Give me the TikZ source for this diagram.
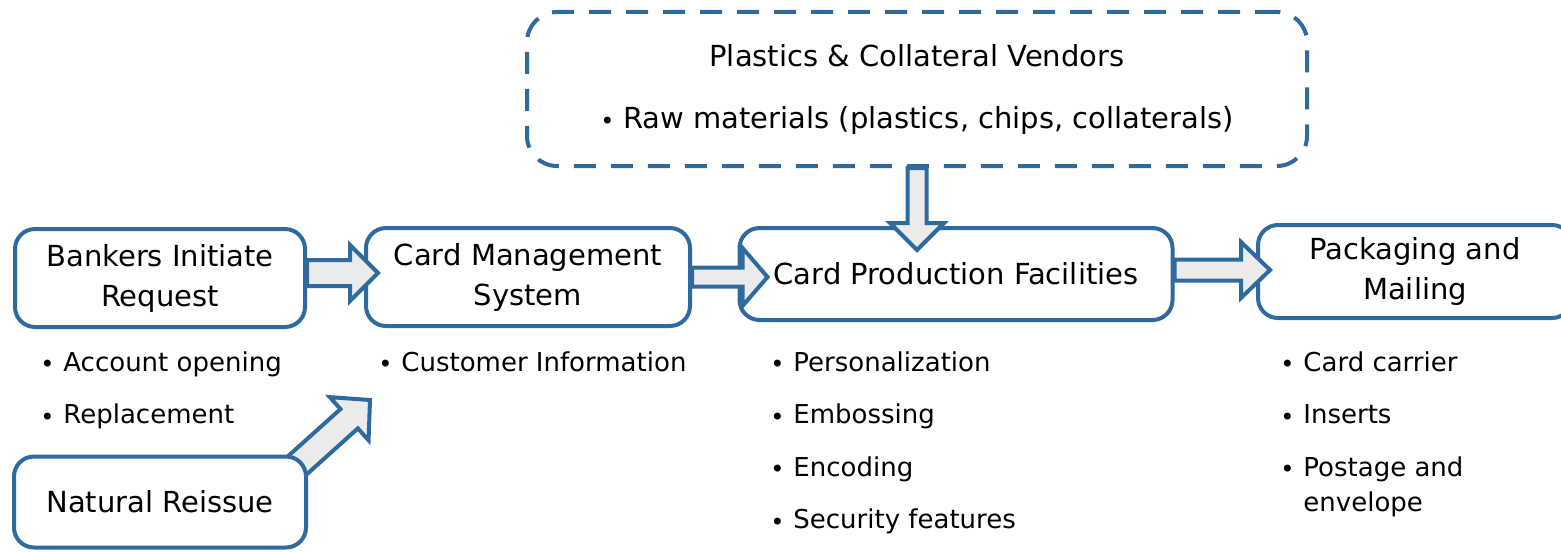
\documentclass[tikz,border=0pt]{standalone}
\usepackage{fontspec}
\setmainfont{DejaVu Sans}
\usetikzlibrary{calc,positioning,backgrounds}
\definecolor{boxblue}{HTML}{2E6A9E}
\colorlet{arrowgray}{black!8}
\tikzstyle{box}=[draw=boxblue, line width=2pt, rounded corners=10pt, fill=white,
  align=center, inner sep=2pt, font=\fontsize{14.5}{20}\selectfont]
\tikzstyle{vendor}=[box, dash pattern=on 11pt off 7.5pt, rounded corners=15pt,
  font=\fontsize{14.5}{31}\selectfont]
\tikzstyle{item}=[anchor=base west, inner sep=0pt, font=\fontsize{13}{18}\selectfont]
\tikzstyle{barrow}=[draw=boxblue, fill=arrowgray, line width=2pt, line join=miter]

\newcommand{\bul}{\makebox[11.5pt][l]{\raisebox{-0.1ex}{\fontsize{12}{12}\selectfont\textbullet}}}

% block arrow: start, tip, shaft half width, head half width, head length
\newcommand{\blockarrow}[5]{%
  \coordinate (hb) at ($(#2)!#5!(#1)$);
  \draw[barrow] ($(#1)!#3!90:(#2)$) -- ($(hb)!#3!-90:(#1)$) -- ($(hb)!#4!-90:(#1)$)
    -- (#2) -- ($(hb)!#4!90:(#1)$) -- ($(hb)!#3!90:(#1)$) -- ($(#1)!#3!-90:(#2)$) -- cycle;}

\begin{document}
\begin{tikzpicture}[x=0.5pt, y=-0.5pt, node distance=26.3pt, on grid]
  \useasboundingbox (0,0) rectangle (1561,551);

  % main chain
  \node[box, minimum width=145pt, minimum height=49pt] (bank) at (160,278) {Bankers Initiate\\Request};
  \node[box, minimum width=162pt, minimum height=49pt, right=184pt of bank, yshift=.5pt] (cms) {Card Management\\System};
  \node[box, minimum width=216.5pt, minimum height=46pt, right=214pt of cms, yshift=1.5pt] (cpf) {Card Production Facilities};
  \node[box, minimum width=157pt, minimum height=46.5pt, right=229.5pt of cpf, yshift=1.25pt] (pack) {Packaging and\\Mailing};
  \node[box, minimum width=146pt, minimum height=45.5pt, below=112pt of bank] (nat) {Natural Reissue};

  \node[vendor, minimum width=390pt, minimum height=77pt] (vend) at (917,89)
    {Plastics \& Collateral Vendors\\\bul Raw materials (plastics, chips, collaterals)};

  % bullet lists
  \node[item] (acc) at (40,371) {\bul Account opening};
  \node[item, below=of acc.base west, anchor=base west] (rep) {\bul Replacement};

  \node[item] (cust) at (378,371) {\bul Customer Information};

  \node[item] (pers) at (770,371) {\bul Personalization};
  \node[item, below=of pers.base west, anchor=base west] (emb) {\bul Embossing};
  \node[item, below=of emb.base west, anchor=base west] (enc) {\bul Encoding};
  \node[item, below=of enc.base west, anchor=base west] (sec) {\bul Security features};

  \node[item] (carr) at (1280,371) {\bul Card carrier};
  \node[item, below=of carr.base west, anchor=base west] (ins) {\bul Inserts};
  \node[item, below=of ins.base west, anchor=base west] (post) {\bul Postage and};
  \node[item, below=17.5pt of post.base west, anchor=base west, xshift=11.5pt] (env) {envelope};

  % block arrows
  \coordinate (s1) at ($(bank.east)+(0,-5)$);
  \coordinate (t1) at ($(s1 -| cms.west)+(14,0)$);
  \blockarrow{s1}{t1}{6.5pt}{14pt}{14pt}
  \coordinate (t2) at ($(cms.east -| cpf.west)+(30,0)$);
  \blockarrow{cms.east}{t2}{4.75pt}{14.5pt}{12.5pt}
  \coordinate (s3) at ($(cpf.east)+(0,-4)$);
  \coordinate (t3) at ($(s3 -| pack.west)+(14,0)$);
  \blockarrow{s3}{t3}{5.25pt}{14pt}{14.5pt}
  \coordinate (t4) at ($(vend.south |- cpf.north)+(0,24)$);
  \blockarrow{vend.south}{t4}{4.75pt}{13.5pt}{13.5pt}
  \begin{scope}[on background layer]
    \coordinate (s5) at ($(nat.north east)+(-12,12)$);
    \coordinate (t5) at ($(cms.south west)+(6,72)$);
    \blockarrow{s5}{t5}{6.5pt}{14.5pt}{14pt}
  \end{scope}
\end{tikzpicture}
\end{document}
